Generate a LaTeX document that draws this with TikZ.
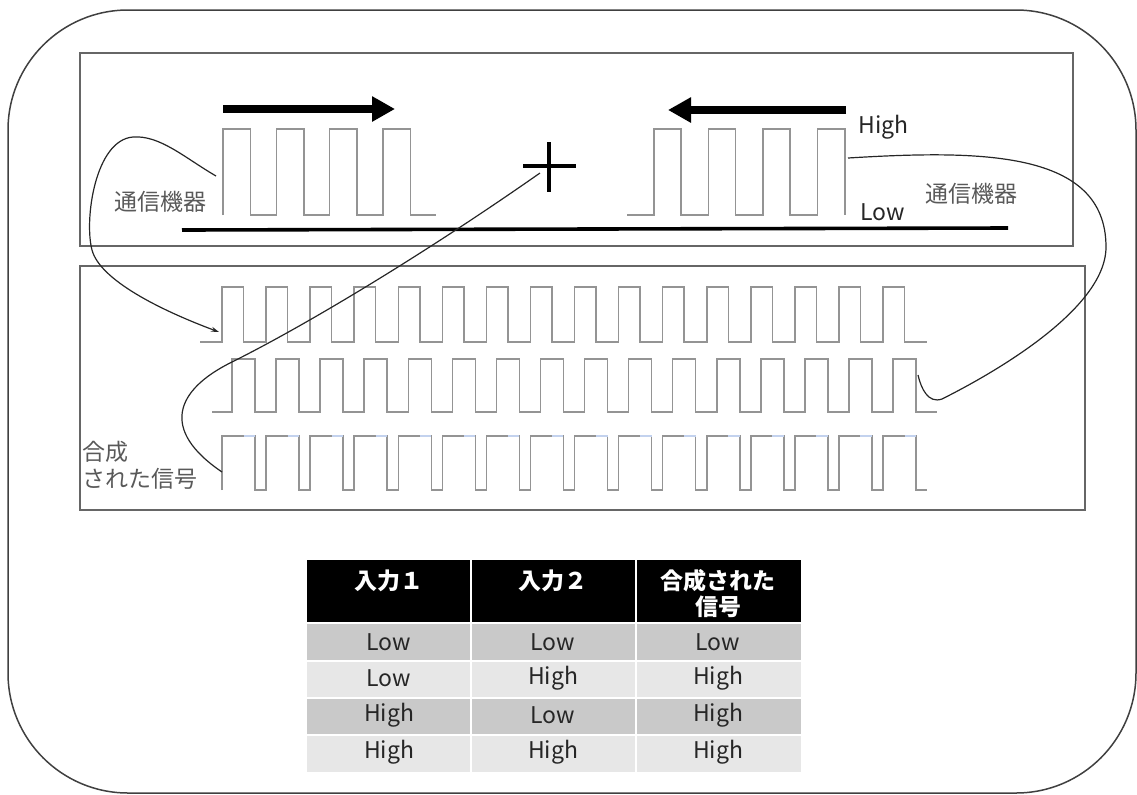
\documentclass[tikz,border=0pt]{standalone}
\usepackage{fontspec}
\setmainfont{Noto Sans CJK JP}
\usepackage{xcolor}
\usepackage{tikz}
\usetikzlibrary{arrows.meta}
\definecolor{rowdark}{HTML}{C9C9C9}
\definecolor{rowlight}{HTML}{E7E7E7}
\definecolor{overlap}{HTML}{C3D2EE}

\begin{document}
\begin{tikzpicture}[x=0.5pt,y=-0.5pt,
  panel/.style={draw=black!60,line width=1pt},
  sigline/.style={draw=black!42,line width=0.75pt},
  curvelink/.style={draw=black!85,line width=0.6pt},
  devlabel/.style={text=black!65,font=\fontsize{11.5}{13.5}\selectfont,inner sep=0pt},
  hdr/.style={text=white,font=\bfseries\fontsize{11.5}{13}\selectfont,align=center,anchor=north,inner sep=0pt},
  cellt/.style={text=black!85,font=\fontsize{11.5}{13}\selectfont,inner sep=0pt}]
\useasboundingbox (0,0) rectangle (1137,794);
\draw[black!75,line width=0.75pt,rounded corners=60pt] (8,10) rectangle (1136,793);
% top panel: two devices
\draw[panel] (80,53) rectangle (1073,246);
\draw[line width=1.8pt] (182,230) -- (1008,228);
\draw[line width=4pt,-{Triangle[length=11.5pt,width=12pt]}] (223,109) -- (395,109);
\draw[line width=4pt,-{Triangle[length=11.5pt,width=12pt]}] (846,110) -- (668,110);
\draw[sigline] (223,215) \foreach \k in {0,...,3}{ -- ++(0,-86) -- ++(27.5,0) -- ++(0,86) -- ++(25.8,0)};
\draw[sigline] (627,215) -- (654,215) \foreach \k in {0,...,2}{ -- ++(0,-86) -- ++(27,0) -- ++(0,86) -- ++(27.5,0)}
  -- ++(0,-86) -- ++(27.5,0) -- ++(0,86);
\draw[line width=1.8pt] (523,166) -- (576,166) (549,142) -- (549,192);
\coordinate (sum) at (549,166);
\node[devlabel] (devL) at (160,202) {通信機器};
\node[devlabel] (devR) at (971,194) {通信機器};
\node[cellt,anchor=west] (hi) at (858,127) {High};
\node[cellt,anchor=west] (lo) at (860,212) {Low};
% middle panel: signals
\draw[panel] (80,266) rectangle (1085,510);
\draw[sigline] (200,342) -- (222,342) \foreach \k in {1,...,16}{ -- ++(0,-55) -- ++(21.5,0) -- ++(0,55) -- ++(22.57,0)};
\draw[sigline] (212,412) -- (232,412) \foreach \k in {1,...,16}{ -- ++(0,-53) -- ++(23,0) -- ++(0,53) -- ++(21.07,0)};
\draw[sigline] (222,490) \foreach \k in {1,...,16}{ -- ++(0,-54) -- ++(33,0) -- ++(0,54) -- ++(11.07,0)};
\foreach \k in {0,...,15} \draw[overlap,line width=0.75pt] ({243.5+44.07*\k},436) -- ({255+44.07*\k},436);
\node[devlabel,anchor=north west,align=left] (mixlbl) at (82,441) {合成\\された信号};
% connectors
\coordinate (txL) at (216,176); \coordinate (rx1) at (219,332);
\coordinate (sumtail) at (540,173); \coordinate (mix) at (222,472);
\coordinate (txR) at (848,158); \coordinate (rx2) at (918,375);
\draw[curvelink,-{Stealth[length=4pt,width=2.5pt]}] (txL) .. controls (185,158) and (160,135) .. (133,137)
  .. controls (95,140) and (84,220) .. (92,250) .. controls (100,280) and (160,310) .. (rx1);
\draw[curvelink] (sumtail) .. controls (430,250) and (312,322) .. (232,362)
  .. controls (175,390) and (160,430) .. (mix);
\draw[curvelink] (txR) .. controls (980,150) and (1106,150) .. (1106,247)
  .. controls (1106,310) and (990,375) .. (942,399) .. controls (928,404) and (921,388) .. (rx2);
% truth table
\fill[black] (307,560) rectangle (801,622);
\foreach \ya/\yb/\cc in {624/660/rowdark,662/697/rowlight,699/734/rowdark,736/772/rowlight}
  \fill[\cc] (307,\ya) rectangle (801,\yb);
\foreach \xx in {471,636} \draw[white,line width=1pt] (\xx,558) -- (\xx,774);
\node[hdr] (h1) at (389,569) {入力１};
\node[hdr] (h2) at (553,569) {入力２};
\node[hdr] (h3) at (718,569) {合成された\\信号};
\foreach \r/\yc/\a/\b/\c in {1/642/Low/Low/Low,2/678/Low/High/High,3/715/High/Low/High,4/752/High/High/High}{
  \node[cellt] (r\r a) at (389,\yc) {\a};
  \node[cellt] (r\r b) at (553,\yc) {\b};
  \node[cellt] (r\r c) at (718,\yc) {\c};
}
\end{tikzpicture}
\end{document}
